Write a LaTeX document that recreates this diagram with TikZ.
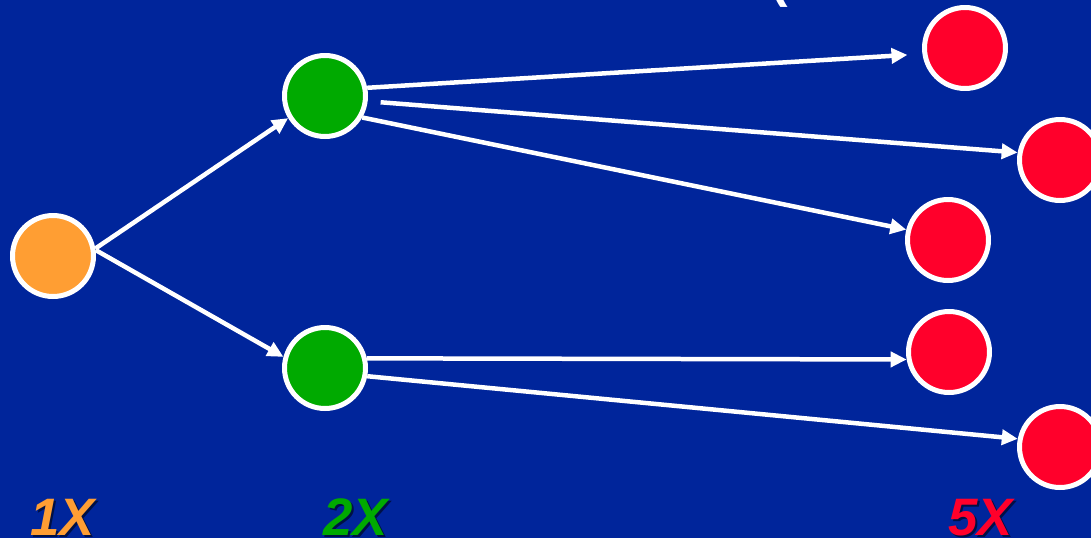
\documentclass[tikz,border=0pt]{standalone}
\usepackage{fontspec}
\setmainfont{Liberation Sans}
\usetikzlibrary{arrows.meta}
\definecolor{slidebg}{RGB}{0,37,155}
\definecolor{repone}{RGB}{255,158,51}
\definecolor{reptwo}{RGB}{0,170,0}
\definecolor{repfive}{RGB}{255,0,43}
\tikzset{
  replica/.style={circle, draw=white, line width=1mm, minimum size=1.62cm, inner sep=0pt},
  first/.style={replica, fill=repone},
  second/.style={replica, fill=reptwo},
  third/.style={replica, fill=repfive},
  arrow/.style={-{Triangle[length=3.2mm,width=3mm]}, white, line width=0.9mm},
  factor/.style={font=\fontsize{30}{30}\selectfont\bfseries\itshape, anchor=base west, inner sep=0pt},
  factorshadow/.style={factor, text=black, opacity=0.55}
}

\begin{document}
\begin{tikzpicture}[x=0.02cm, y=-0.02cm]
  \useasboundingbox (0,0) rectangle (1091,538);
  \fill[slidebg] (0,0) rectangle (1091,538);
  % replicas
  \node[first] (one) at (53,256) {};
  \node[second] (twoa) at (325,96) {};
  \node[second] (twob) at (325,368) {};
  \node[third] (fivea) at (965,48) {};
  \node[third] (fiveb) at (1060,160) {};
  \node[third] (fivec) at (948,240) {};
  \node[third] (fived) at (949,352) {};
  \node[third] (fivee) at (1060,447) {};
  % copies
  \draw[arrow] (one.10) -- (twoa.211);
  \draw[arrow] (one.8) -- (twob.165);
  \draw[arrow, shorten >=0.3cm] (twoa.11) -- (fivea.188);
  \draw[arrow, shorten <=0.26cm] (twoa.-7) -- (fiveb.170);
  \draw[arrow] (twoa.-30) -- (fivec.166);
  \draw[arrow] (twob.13) -- (fived.190);
  \draw[arrow] (twob.-11) -- (fivee.169);
  % factors
  \node[factorshadow] (onexs) at (32,537) {1X};
  \node[factor, text=repone] (onex) at (30,535) {1X};
  \node[factorshadow] (twoxs) at (325,537) {2X};
  \node[factor, text=reptwo] (twox) at (323,535) {2X};
  \node[factorshadow] (fivexs) at (950,537) {5X};
  \node[factor, text=repfive] (fivex) at (948,535) {5X};
  \node[font=\fontsize{30}{30}\selectfont\bfseries, text=white, anchor=base, inner sep=0pt] (cut) at (779,-4) {(};
\end{tikzpicture}
\end{document}
